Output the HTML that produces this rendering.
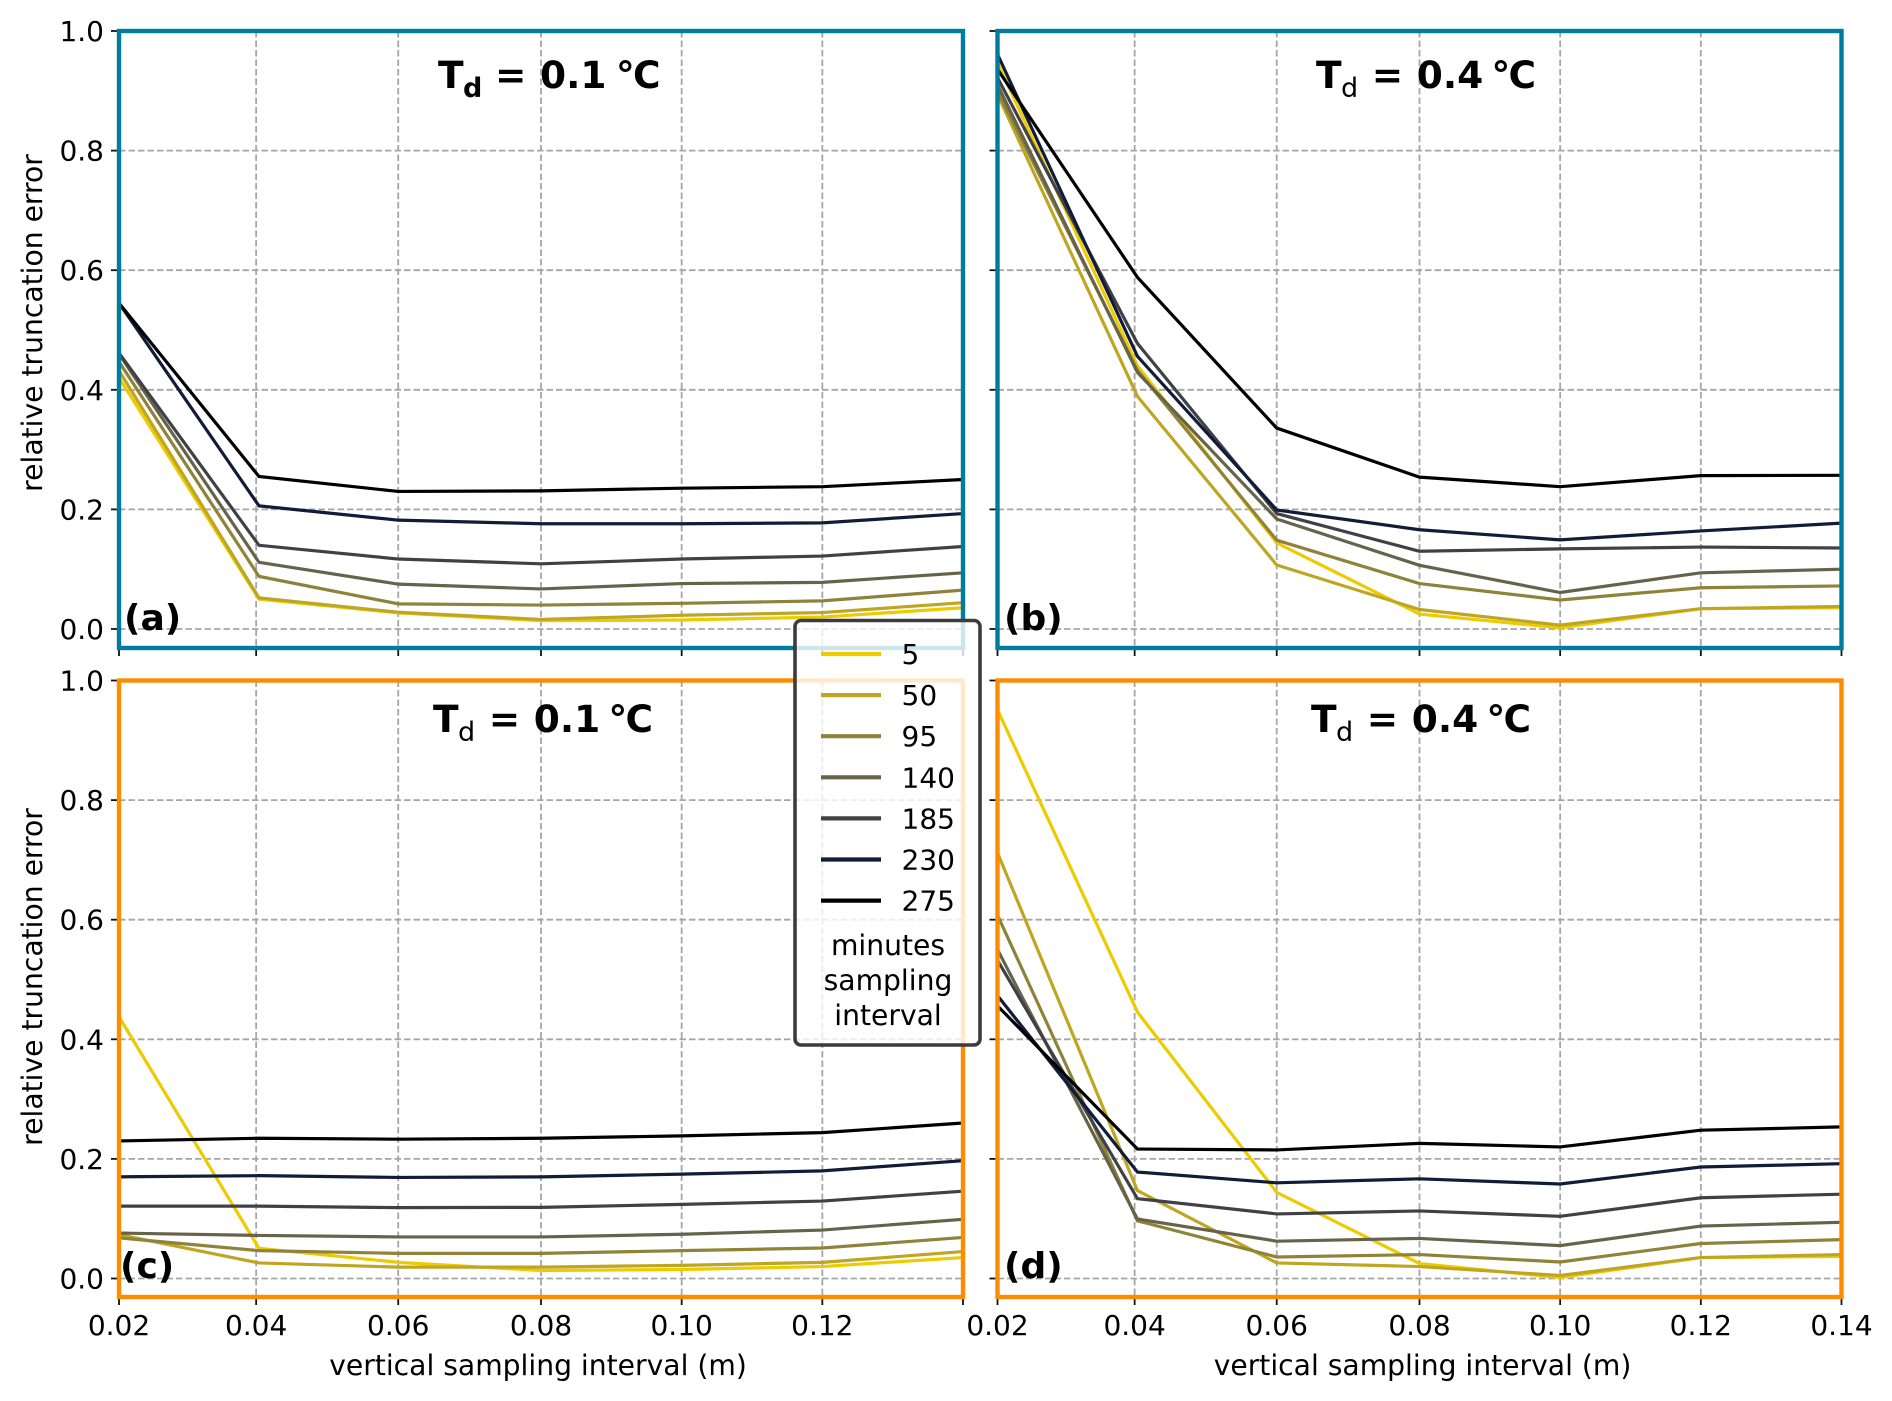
<!DOCTYPE html>
<html lang="en">
<head>
<meta charset="utf-8">
<title>Relative truncation error vs vertical sampling interval</title>
<style>
html,body{margin:0;padding:0;background:#fff;}
svg{display:block;font-family:"DejaVu Sans","Liberation Sans",sans-serif;filter:blur(0.3px);}
</style>
</head>
<body>
<svg id="figure" xmlns="http://www.w3.org/2000/svg" width="1892" height="1401" viewBox="0 0 1892 1401"></svg>
<script>
// ---- shared axis data ----
const samplingIntervals = [0.02, 0.0399, 0.0597, 0.08, 0.10, 0.12, 0.14];
const xTickValues = [0.02, 0.0395, 0.0597, 0.08, 0.10, 0.12, 0.14];
const xTickLabels = ['0.02', '0.04', '0.06', '0.08', '0.10', '0.12', '0.14'];
const yTickValues = [0, 0.2, 0.4, 0.6, 0.8, 1.0];
const yTickLabels = ['0.0', '0.2', '0.4', '0.6', '0.8', '1.0'];
const seriesNames = ['5', '50', '95', '140', '185', '230', '275'];
const seriesColors = ['#edcb00', '#bfa622', '#8f8339', '#66634a', '#3f4147', '#111c38', '#000000'];

// ---- panel (a) ----
const a5   = [0.420, 0.050, 0.027, 0.014, 0.015, 0.020, 0.0355];
const a50  = [0.432, 0.052, 0.028, 0.016, 0.023, 0.0275, 0.044];
const a95  = [0.447, 0.088, 0.042, 0.040, 0.043, 0.047, 0.065];
const a140 = [0.460, 0.1115, 0.075, 0.067, 0.076, 0.078, 0.094];
const a185 = [0.4615, 0.140, 0.117, 0.109, 0.117, 0.122, 0.138];
const a230 = [0.545, 0.206, 0.182, 0.176, 0.176, 0.1775, 0.193];
const a275 = [0.545, 0.255, 0.230, 0.231, 0.2355, 0.238, 0.250];

// ---- panel (b) ----
const b5   = [0.947, 0.440, 0.144, 0.025, 0.002, 0.034, 0.0355];
const b50  = [0.894, 0.389, 0.107, 0.0326, 0.0065, 0.034, 0.0377];
const b95  = [0.899, 0.4325, 0.1485, 0.076, 0.0485, 0.069, 0.072];
const b140 = [0.910, 0.429, 0.184, 0.1065, 0.061, 0.094, 0.100];
const b185 = [0.922, 0.4775, 0.193, 0.130, 0.134, 0.137, 0.1355];
const b230 = [0.961, 0.456, 0.199, 0.166, 0.149, 0.164, 0.177];
const b275 = [0.936, 0.588, 0.336, 0.254, 0.238, 0.2565, 0.257];

// ---- panel (c) ----
const c5   = [0.4376, 0.0505, 0.027, 0.0134, 0.015, 0.020, 0.035];
const c50  = [0.0735, 0.026, 0.019, 0.019, 0.022, 0.027, 0.045];
const c95  = [0.068, 0.0466, 0.042, 0.042, 0.0466, 0.051, 0.0687];
const c140 = [0.076, 0.072, 0.0695, 0.0695, 0.074, 0.081, 0.099];
const c185 = [0.121, 0.121, 0.1185, 0.119, 0.124, 0.1295, 0.146];
const c230 = [0.170, 0.172, 0.169, 0.170, 0.1745, 0.180, 0.197];
const c275 = [0.230, 0.2345, 0.233, 0.2345, 0.2385, 0.244, 0.260];

// ---- panel (d) ----
const d5   = [0.951, 0.4455, 0.144, 0.025, 0.0016, 0.035, 0.037];
const d50  = [0.712, 0.147, 0.026, 0.020, 0.005, 0.035, 0.040];
const d95  = [0.6075, 0.0964, 0.036, 0.040, 0.0276, 0.0585, 0.065];
const d140 = [0.550, 0.0995, 0.0624, 0.067, 0.055, 0.0877, 0.094];
const d185 = [0.532, 0.1335, 0.108, 0.113, 0.104, 0.135, 0.141];
const d230 = [0.473, 0.178, 0.160, 0.1667, 0.158, 0.1864, 0.192];
const d275 = [0.456, 0.2165, 0.215, 0.226, 0.220, 0.248, 0.2535];

const NS = 'http://www.w3.org/2000/svg';
const svg = document.getElementById('figure');

function mk(tag, attrs, parent) {
  const node = document.createElementNS(NS, tag);
  for (const k in attrs) node.setAttribute(k, attrs[k]);
  (parent || svg).appendChild(node);
  return node;
}

function drawPanel(cfg) {
  const left = cfg.left, right = cfg.left + 844;
  const top = cfg.top, bottom = cfg.bottom;
  const xScale = v => left + (v - 0.02) / 0.12 * 844;
  const yScale = v => cfg.y0 + (cfg.y1 - cfg.y0) * v;

  const g = mk('g', {});
  
  

  // gridlines
  yTickValues.forEach((v, i) => {
    if (v === 1.0) return;
    const line = mk('line', {x1: left, x2: right, y1: yScale(v), y2: yScale(v), stroke: '#a6a6a6', 'stroke-width': 1.8, 'stroke-dasharray': '6.5 3'}, g);
    
    
  });
  xTickValues.forEach((v, i) => {
    if (i === 0 || i === xTickValues.length - 1) return;
    const line = mk('line', {x1: xScale(v), x2: xScale(v), y1: top, y2: bottom, stroke: '#a6a6a6', 'stroke-width': 1.8, 'stroke-dasharray': '6.5 3'}, g);
    
    
  });

  // series
  cfg.series.forEach((values, i) => {
    const pts = values.map((v, j) => xScale(samplingIntervals[j]).toFixed(2) + ',' + yScale(v).toFixed(2)).join(' ');
    const line = mk('polyline', {points: pts, fill: 'none', stroke: seriesColors[i], 'stroke-width': 3.2, 'stroke-linejoin': 'miter'}, g);
    
    
  });

  // ticks
  yTickValues.forEach((v, i) => {
    const tick = mk('line', {x1: left - 8, x2: left, y1: yScale(v), y2: yScale(v), stroke: '#111', 'stroke-width': 1.8}, g);
    
    
    if (cfg.yLabels) {
      const t = mk('text', {x: left - 15, y: yScale(v) + 10, 'text-anchor': 'end', 'font-size': 28, fill: '#000'}, g);
      t.textContent = yTickLabels[i];
      
      
    }
  });
  xTickValues.forEach((v, i) => {
    const tick = mk('line', {x1: xScale(v), x2: xScale(v), y1: bottom, y2: bottom + 8, stroke: '#111', 'stroke-width': 1.8}, g);
    
    
    if (cfg.xLabels && !(cfg.skipLastX && i === xTickValues.length - 1)) {
      const t = mk('text', {x: xScale(v), y: 1335, 'text-anchor': 'middle', 'font-size': 28, fill: '#000'}, g);
      t.textContent = xTickLabels[i];
      
      
    }
  });

  // frame
  const frame = mk('rect', {x: left, y: top, width: 844, height: bottom - top, fill: 'none', stroke: cfg.frame, 'stroke-width': 4.4}, g);
  
  

  // title
  const title = mk('text', {x: cfg.titleX, y: cfg.titleY, 'font-size': 37.5, 'font-weight': 'bold', fill: '#000'}, g);
  
  
  const shift = cfg.boldSub ? 0 : -2.5;
  const parts = [
    {text: 'T', x: -1, dy: 0, size: 37.5, w: 'bold'},
    {text: 'd', x: 24, dy: 9, size: 27, w: cfg.boldSub ? 'bold' : 'normal'},
    {text: '=', x: 56 + shift / 2, dy: -9, size: 37.5, w: 'bold'},
    {text: cfg.value, x: 101 + shift / 2, dy: 0, size: 37.5, w: 'bold'},
    {text: '°', x: 177 + shift, dy: 0, size: 37.5, w: 'bold'},
    {text: 'C', x: 194 + shift, dy: 0, size: 37.5, w: 'bold'}
  ];
  parts.forEach(p => {
    const s = mk('tspan', {x: cfg.titleX + p.x, dy: p.dy, 'font-size': p.size, 'font-weight': p.w}, title);
    s.textContent = p.text;
  });

  // panel letter
  const letter = mk('text', {x: cfg.letterX, y: cfg.letterY, 'font-size': 36, 'font-weight': 'bold', fill: '#000'}, g);
  letter.textContent = '(' + cfg.id + ')';
  
  

  // axis titles
  if (cfg.yTitle) {
    const t = mk('text', {x: 0, y: 0, transform: 'translate(42 ' + cfg.yTitleY + ') rotate(-90)', 'text-anchor': 'middle', 'font-size': 28.2, fill: '#000'}, g);
    t.textContent = 'relative truncation error';
    
    
  }
  if (cfg.xTitle) {
    const t = mk('text', {x: left + cfg.xTitleOffset, y: 1375, 'text-anchor': 'middle', 'font-size': 28.2, fill: '#000'}, g);
    t.textContent = 'vertical sampling interval (m)';
    
    
  }
}

drawPanel({id: 'a', left: 119, top: 31, bottom: 648, y0: 629, y1: 31, frame: '#007d9c',
  series: [a5, a50, a95, a140, a185, a230, a275], yLabels: true, xLabels: false, yTitle: true, yTitleY: 323, xTitle: false,
  titleX: 439, titleY: 88, boldSub: true, value: '0.1', letterX: 124, letterY: 630});
drawPanel({id: 'b', left: 997.5, top: 31, bottom: 648, y0: 629, y1: 31, frame: '#007d9c',
  series: [b5, b50, b95, b140, b185, b230, b275], yLabels: false, xLabels: false, yTitle: false, xTitle: false,
  titleX: 1317, titleY: 88, boldSub: false, value: '0.4', letterX: 1004, letterY: 630});
drawPanel({id: 'c', left: 119, top: 680.5, bottom: 1297, y0: 1278.5, y1: 680.5, frame: '#ff8c00',
  series: [c5, c50, c95, c140, c185, c230, c275], yLabels: true, xLabels: true, skipLastX: true, yTitle: true, yTitleY: 977, xTitle: true, xTitleOffset: 419,
  titleX: 434, titleY: 732, boldSub: false, value: '0.1', letterX: 120, letterY: 1278});
drawPanel({id: 'd', left: 997.5, top: 680.5, bottom: 1297, y0: 1278.5, y1: 680.5, frame: '#ff8c00',
  series: [d5, d50, d95, d140, d185, d230, d275], yLabels: false, xLabels: true, yTitle: false, xTitle: true, xTitleOffset: 425,
  titleX: 1312, titleY: 732, boldSub: false, value: '0.4', letterX: 1004, letterY: 1278});

// ---- legend ----
const legend = mk('g', {});


const legendBox = mk('rect', {x: 795, y: 620.5, width: 185, height: 424.5, rx: 6, ry: 6, fill: '#ffffff', 'fill-opacity': 0.8, stroke: '#3c3c3c', 'stroke-width': 3.6}, legend);


seriesNames.forEach((name, i) => {
  const yPos = 654 + i * 41.1;
  const swatch = mk('line', {x1: 821, x2: 881, y1: yPos, y2: yPos, stroke: seriesColors[i], 'stroke-width': 4.2}, legend);
  
  
  const label = mk('text', {x: 901.5, y: yPos + 10, 'font-size': 28, fill: '#000'}, legend);
  label.textContent = name;
  
  
});
const legendCaption = ['minutes', 'sampling', 'interval'];
legendCaption.forEach((word, i) => {
  const t = mk('text', {x: 888, y: 955 + i * 35, 'text-anchor': 'middle', 'font-size': 28.2, fill: '#000'}, legend);
  t.textContent = word;
  
  
});
</script>
</body>
</html>
